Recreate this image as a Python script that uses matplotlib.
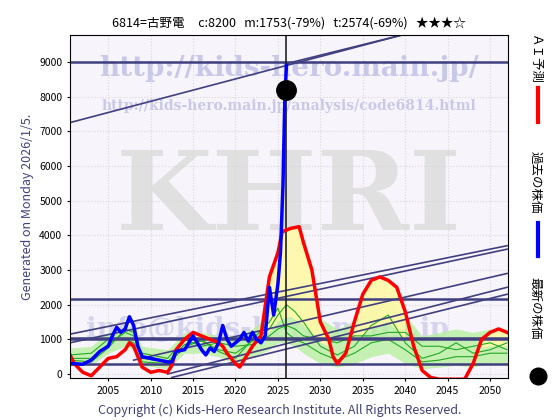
import numpy as np
import matplotlib.pyplot as plt

plt.rcParams['font.family'] = ['Noto Sans CJK JP', 'DejaVu Sans']

title = "6814=古野電     c:8200   m:1753(-79%)   t:2574(-69%)   ★★★☆"

past_x = [2000.5, 2001, 2002, 2003, 2004, 2005, 2005.5, 2006, 2006.5, 2007, 2007.5, 2008,
          2008.5, 2009, 2010, 2011, 2012, 2012.5, 2013, 2014, 2014.5, 2015, 2015.5, 2016,
          2016.5, 2017, 2017.5, 2018, 2018.5, 2019, 2019.5, 2020, 2020.5, 2021, 2021.5,
          2022, 2022.5, 2023, 2023.5, 2024, 2024.5, 2025, 2025.3, 2025.6, 2025.8, 2026]
past_y = [300, 300, 280, 400, 650, 800, 1100, 1350, 1200, 1300, 1650, 1400,
          800, 500, 450, 400, 350, 350, 650, 700, 900, 1100, 900, 700,
          550, 750, 650, 900, 1400, 1000, 800, 900, 1000, 1200, 950,
          1200, 1000, 900, 1100, 2500, 1700, 2600, 3500, 5500, 7800, 8900]

ai_x = [2000.5, 2001, 2002, 2003, 2004, 2005, 2006, 2007, 2007.5, 2008, 2009, 2010, 2011,
        2012, 2012.5, 2013, 2014, 2015, 2016, 2017, 2018, 2018.5, 2019, 2020, 2020.5, 2021,
        2022, 2023, 2024, 2025, 2025.5, 2026.5, 2027.5, 2028, 2029, 2030, 2031, 2031.5,
        2032, 2033, 2034, 2035, 2036, 2037, 2038, 2039, 2040, 2041, 2042, 2043, 2044,
        2045, 2046, 2047, 2048, 2049, 2050, 2051, 2052]
ai_y = [550, 300, 50, -50, 200, 450, 500, 700, 900, 800, 200, 50, 100,
        50, 250, 700, 1000, 1200, 1100, 1000, 900, 800, 600, 300, 200, 400,
        800, 1100, 2800, 3500, 4100, 4200, 4250, 3800, 3000, 1500, 1000, 500,
        300, 600, 1500, 2300, 2700, 2800, 2700, 2500, 1800, 800, 100, -100, -150,
        -150, -150, -150, 300, 1000, 1200, 1300, 1200]

band_x = [2000.5, 2003, 2005, 2007, 2008, 2009, 2012, 2014, 2016, 2018, 2020, 2022, 2024,
          2025, 2026, 2027, 2028, 2030, 2032, 2034, 2036, 2038, 2040, 2042, 2044, 2046,
          2048, 2050, 2052]
band_mid = [500, 500, 900, 1100, 1000, 500, 400, 900, 900, 800, 700, 900, 1200,
            1500, 1700, 1600, 1400, 900, 700, 900, 1300, 1500, 1000, 600, 700, 800,
            700, 800, 800]
band_lo = [250, 250, 600, 800, 700, 250, 150, 600, 600, 500, 300, 500, 700,
           900, 900, 800, 600, 300, 200, 300, 500, 600, 300, 150, 200, 250,
           200, 300, 300]
band_hi = [750, 800, 1200, 1400, 1300, 800, 700, 1200, 1200, 1100, 1100, 1300, 1700,
           2300, 2500, 2400, 2200, 1600, 1300, 1500, 2000, 2200, 1700, 1100, 1200, 1300,
           1200, 1300, 1300]
green_a = [450, 450, 850, 1200, 1100, 450, 350, 850, 950, 700, 600, 950, 1300,
           1700, 2000, 1800, 1500, 800, 550, 800, 1400, 1700, 900, 450, 600, 900,
           600, 700, 900]
green_b = [550, 600, 1000, 1000, 900, 600, 450, 1000, 800, 900, 800, 850, 1100,
           1300, 1400, 1300, 1100, 1000, 900, 1100, 1100, 1200, 1200, 800, 800, 700,
           800, 900, 700]
green_c = [400, 350, 750, 1300, 1200, 350, 300, 750, 1000, 650, 450, 1000, 1500,
           1900, 1200, 1000, 900, 600, 400, 600, 900, 1000, 700, 350, 400, 500,
           500, 600, 600]

# trend lines: (x0, y0, x1, y1)
trend_lines = [(2000.5, 7250, 2040, 9800), (2026, 8950, 2040, 9800),
               (2000.5, 1150, 2052, 3700), (2000.5, 900, 2052, 3600),
               (2008, 400, 2052, 2900), (2012, 0, 2052, 2500), (2012.5, -100, 2052, 2300)]
hlines = [9000, 2150, 1050, 1000, 280]

fig = plt.figure(figsize=(5.6, 4.2), dpi=100)
ax = fig.add_axes([0.125, 0.1, 0.782, 0.817])
ax.set_facecolor('#f8f4fb')
ax.set_xlim(2000.5, 2052.1)
ax.set_ylim(-115, 9780)

wm = dict(transform=ax.transAxes, ha='center', family='DejaVu Serif',
          fontweight='bold', zorder=0.5)
ax.text(0.5, 0.88, "http://kids-hero.main.jp/", fontsize=20, color='#c8c8e8', **wm)
ax.text(0.5, 0.78, "http://kids-hero.main.jp/analysis/code6814.html", fontsize=10,
        color='#c8c8e8', **wm)
ax.text(0.5, 0.43, "KHRI", fontsize=80, color='#e0e0e0', **wm)
ax.text(0.45, 0.12, "info@kids-hero.main.jp", fontsize=20, color='#d4d4ee', **wm)

ax.fill_between(band_x, band_lo, band_hi, color='#b8f0a0', alpha=0.8, lw=0)
ai_on_band = np.interp(ai_x, band_x, band_mid)
ax.fill_between(ai_x, ai_on_band, ai_y, where=np.array(ai_y) > ai_on_band,
                color='#fff8a8', alpha=0.9, lw=0)
for g in (green_a, green_b, green_c):
    ax.plot(band_x, g, color='#22aa22', lw=0.8)
for x0, y0, x1, y1 in trend_lines:
    ax.plot([x0, x1], [y0, y1], color='#404080', lw=1.2)
for h in hlines:
    ax.axhline(h, color='#404080', lw=1.8)
ax.axvline(2026, color='#222222', lw=1.2)

ax.plot(ai_x, ai_y, color='red', lw=2.5)
ax.plot(past_x, past_y, color='blue', lw=2.5)
ax.plot([2026], [8200], 'o', color='black', ms=14)

ax.set_xticks(range(2005, 2051, 5))
ax.set_yticks(range(0, 9001, 1000))
ax.grid(True, color='#d8d8d8', lw=0.8, ls=':')
ax.set_axisbelow(True)
ax.tick_params(labelsize=7.5, length=2)
ax.set_ylabel("Generated on Monday 2026/1/5.", color='#404080', fontsize=9, labelpad=4)
ax.set_title(title, fontsize=9)
fig.text(0.5, 0.015, "Copyright (c) Kids-Hero Research Institute. All Rights Reserved.",
         ha='center', fontsize=9, color='#404080')

# legend on the right, vertical text
fig.text(0.955, 0.92, "ＡＩ予測", rotation=270, fontsize=9, va='top', ha='center')
fig.add_artist(plt.Line2D([0.96, 0.96], [0.79, 0.71], color='red', lw=3))
fig.text(0.955, 0.64, "過去の株価", rotation=270, fontsize=9, va='top', ha='center')
fig.add_artist(plt.Line2D([0.96, 0.96], [0.47, 0.39], color='blue', lw=3))
fig.text(0.955, 0.34, "最新の株価", rotation=270, fontsize=9, va='top', ha='center')
fig.add_artist(plt.Line2D([0.96], [0.105], marker='o', color='black', ms=12))

fig.savefig('out.png', dpi=100)
